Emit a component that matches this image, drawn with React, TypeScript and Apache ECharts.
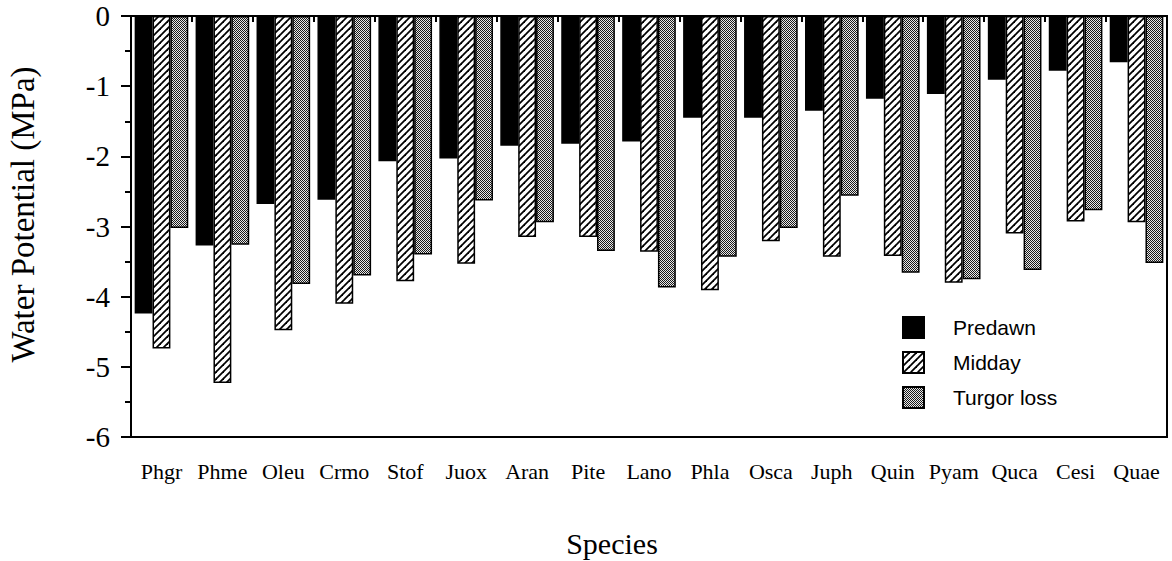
import React, { useEffect, useRef } from "react";
import * as echarts from "echarts";

const species = ["Phgr", "Phme", "Oleu", "Crmo", "Stof", "Juox", "Aran", "Pite", "Lano", "Phla", "Osca", "Juph", "Quin", "Pyam", "Quca", "Cesi", "Quae"];
const predawn = [-4.24, -3.27, -2.68, -2.62, -2.07, -2.03, -1.85, -1.82, -1.79, -1.45, -1.45, -1.35, -1.18, -1.11, -0.91, -0.78, -0.66];
const midday = [-4.74, -5.23, -4.48, -4.10, -3.78, -3.53, -3.15, -3.15, -3.36, -3.91, -3.21, -3.43, -3.42, -3.80, -3.10, -2.93, -2.94];
const turgorLoss = [-3.02, -3.26, -3.82, -3.70, -3.40, -2.63, -2.94, -3.35, -3.87, -3.43, -3.02, -2.56, -3.66, -3.75, -3.62, -2.77, -3.52];
const yTicks = [0, -1, -2, -3, -4, -5, -6];

function hatchCanvas(): HTMLCanvasElement {
  const s = 7;
  const c = document.createElement("canvas");
  c.width = s;
  c.height = s;
  const ctx = c.getContext("2d")!;
  ctx.fillStyle = "#fff";
  ctx.fillRect(0, 0, s, s);
  ctx.strokeStyle = "#000";
  ctx.lineWidth = 1.8;
  for (const off of [-s, 0, s]) {
    ctx.beginPath();
    ctx.moveTo(off - 1, s + 1);
    ctx.lineTo(off + s + 1, -1);
    ctx.stroke();
  }
  return c;
}

function dotCanvas(): HTMLCanvasElement {
  const s = 2;
  const c = document.createElement("canvas");
  c.width = s;
  c.height = s;
  const ctx = c.getContext("2d")!;
  ctx.fillStyle = "#e8e8e8";
  ctx.fillRect(0, 0, s, s);
  ctx.fillStyle = "#1a1a1a";
  ctx.fillRect(0, 0, 1, 1);
  ctx.fillRect(1, 1, 1, 1);
  return c;
}

export default function App() {
  const ref = useRef<HTMLDivElement>(null);
  useEffect(() => {
    if (!ref.current) return;
    const chart = echarts.init(ref.current, null, { renderer: "svg" });
    const hatch = { image: hatchCanvas(), repeat: "repeat", imageWidth: 7, imageHeight: 7 } as any;
    const dots = { image: dotCanvas(), repeat: "repeat", imageWidth: 2, imageHeight: 2 } as any;
    const serif = "'Liberation Serif', 'Times New Roman', serif";
    const border = { borderColor: "#000", borderWidth: 1.5 };
    chart.setOption({
      animation: false,
      backgroundColor: "#fff",
      grid: {
        left: 131, right: 5, top: 16, bottom: 124,
        outerBoundsMode: "none",
        containLabel: false,
        show: true, borderColor: "#000", borderWidth: 2, backgroundColor: "transparent",
      },
      legend: {
        orient: "vertical",
        left: 902,
        top: 316,
        itemWidth: 21,
        itemHeight: 21,
        itemGap: 12,
        padding: 0,
        icon: "rect",
        textStyle: { fontFamily: "'Liberation Sans', Arial, sans-serif", fontSize: 21, color: "#000", padding: [0, 0, 0, 24] },
        data: ["Predawn", "Midday", "Turgor loss"],
      },
      xAxis: {
        type: "category",
        data: species,
        name: "Species",
        nameLocation: "middle",
        nameGap: 91,
        nameTextStyle: { fontFamily: serif, fontSize: 30, color: "#000", padding: [0, 74, 0, 0] },
        axisLine: { lineStyle: { color: "#000", width: 2 } },
        axisTick: { show: true, length: 6, lineStyle: { color: "#000", width: 2 } },
        axisLabel: { interval: 0, fontFamily: serif, fontSize: 22, color: "#000", margin: 23 },
        splitLine: { show: false },
      },
      yAxis: {
        type: "value",
        min: yTicks[yTicks.length - 1],
        max: yTicks[0],
        interval: 1,
        name: "Water Potential (MPa)",
        nameLocation: "middle",
        nameGap: 92,
        nameTextStyle: { fontFamily: serif, fontSize: 33, color: "#000", padding: [0, 0, 0, 24] },
        axisLine: { show: true, lineStyle: { color: "#000", width: 2 } },
        axisTick: { show: true, length: 10, lineStyle: { color: "#000", width: 2 } },
        minorTick: { show: true, splitNumber: 2, length: 6, lineStyle: { color: "#000", width: 2 } },
        axisLabel: { fontFamily: serif, fontSize: 29, color: "#000", margin: 21 },
        splitLine: { show: false },
      },
      series: [
        { name: "Predawn", type: "bar", data: predawn, barGap: "0%", barCategoryGap: "12%", itemStyle: { color: "#000", ...border } },
        { name: "Midday", type: "bar", data: midday, barGap: "0%", barCategoryGap: "12%", itemStyle: { color: hatch, ...border } },
        { name: "Turgor loss", type: "bar", data: turgorLoss, barGap: "0%", barCategoryGap: "12%", itemStyle: { color: dots, ...border } },
      ],
    });
    return () => chart.dispose();
  }, []);
  return <div ref={ref} style={{ width: 1172, height: 561, position: "absolute", left: 0, top: 0 }} />;
}
